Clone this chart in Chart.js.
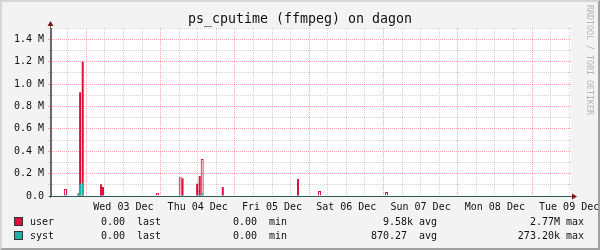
<!DOCTYPE html>
<html>
<head>
<meta charset="utf-8">
<title>ps_cputime (ffmpeg) on dagon</title>
<script src="https://cdn.jsdelivr.net/npm/chart.js@4/dist/chart.umd.min.js"></script>
<style>
  body { margin: 0; background: #f3f3f3; }
  #frame {
    position: relative; width: 600px; height: 250px; overflow: hidden;
    background: #f3f3f3; font-family: "DejaVu Sans Mono", monospace; color: #111;
  }
  #chart { position: absolute; left: 0; top: 0; }
  #edge {
    position: absolute; left: 0; top: 0; width: 600px; height: 250px; box-sizing: border-box;
    border: 2px solid; border-color: #d6d6d6 #a0a0a0 #a0a0a0 #d6d6d6; pointer-events: none;
  }
  #title {
    position: absolute; left: 0; top: 11px; width: 600px; text-align: center;
    font-size: 13.3px; line-height: 16px; white-space: pre;
  }
  #mark {
    position: absolute; left: 585px; top: 5px; writing-mode: vertical-rl;
    font-size: 8.3px; color: #b4b4b4; white-space: pre;
  }
  .lg { position: absolute; font-size: 10px; line-height: 12px; white-space: pre; }
  .box { position: absolute; width: 7px; height: 7px; border: 1px solid #333; }
</style>
</head>
<body>
<div id="frame">
  <canvas id="chart" width="600" height="250"></canvas>
  <div id="title"></div>
  <div id="mark">RRDTOOL / TOBI OETIKER</div>
  <div id="legend"></div>
  <div id="edge"></div>
</div>
<script>
// ================= DATA =================
const title = "ps_cputime (ffmpeg) on dagon";

// x values are hours counted from Tue 02 Dec 00:00
const viewStart = 12.6;
const viewEnd = 180.6;

const dayLabels = ["Wed 03 Dec", "Thu 04 Dec", "Fri 05 Dec", "Sat 06 Dec", "Sun 07 Dec", "Mon 08 Dec", "Tue 09 Dec"];
const dayNoons = [36, 60, 84, 108, 132, 156, 180];

const yTickLabels = ["0.0", "0.2 M", "0.4 M", "0.6 M", "0.8 M", "1.0 M", "1.2 M", "1.4 M"];

// user, half-hour spikes
const userTimes = [21.5, 22.0, 22.85, 28.75, 29.4, 55.1, 59.8, 60.65, 68.1, 92.4];
const userValues = [25000, 926000, 1199000, 105000, 80000, 158000, 110000, 178000, 80000, 152000];

// user, hour-long spikes (show up as outlines)
const userLongTimes = [17.3, 47.0, 54.35, 60.2, 61.45, 99.35, 121.0];
const userLongValues = [62000, 30000, 167000, 50000, 330000, 45000, 36000];

// syst
const systTimes = [17.3, 21.5, 22.0, 22.85, 28.75, 54.35, 55.1, 60.65, 61.45, 68.1, 92.4];
const systValues = [15000, 20000, 104000, 118000, 8000, 8000, 8000, 12000, 24000, 6000, 10000];

// legend
const statNames = ["last", "min", "avg", "max"];
const userStats = ["0.00", "0.00", "9.58k", "2.77M"];
const systStats = ["0.00", "0.00", "870.27", "273.20k"];

// ================= STYLE =================
const USER_COLOR = "#e0103c";
const SYST_COLOR = "#1fb3a8";
const MAJOR_GRID = "rgba(255, 40, 40, 0.40)";
const MINOR_GRID = "rgba(140, 140, 140, 0.38)";
const FONT = { family: "DejaVu Sans Mono", size: 10 };

document.getElementById("title").textContent = title;

// ================= LEGEND =================
const legendEl = document.getElementById("legend");
const nameCols = [137, 269, 419, 566];   // where "last", "min", ... start
const valueEnds = [131, 263, 413, 560];  // right edge of value + unit

function addText(text, x, y, alignRight) {
  const el = document.createElement("div");
  el.className = "lg";
  el.textContent = text;
  if (alignRight) el.style.right = (600 - x) + "px";
  else el.style.left = x + "px";
  el.style.top = y + "px";
  legendEl.appendChild(el);
}

function addRow(name, color, stats, y) {
  const box = document.createElement("div");
  box.className = "box";
  box.style.left = "14px";
  box.style.top = (y - 5) + "px";
  box.style.background = color;
  legendEl.appendChild(box);

  addText(name, 30, y - 6);
  stats.forEach((s, i) => {
    // values without a unit letter leave a blank unit column
    const edge = /[a-zA-Z]$/.test(s) ? valueEnds[i] : valueEnds[i] - 6;
    addText(s, edge, y - 6, true);
  });
  statNames.forEach((s, i) => addText(s, nameCols[i], y - 6));
}

addRow("user", USER_COLOR, userStats, 222);
addRow("syst", SYST_COLOR, systStats, 236);

// ================= CHART =================
function points(times, values) {
  return times.map((t, i) => ({ x: t, y: values[i] }));
}

const rrdFrame = {
  id: "rrdFrame",
  beforeDraw(chart) {
    const { ctx, chartArea: a } = chart;
    ctx.save();
    ctx.fillStyle = "#fff";
    ctx.fillRect(a.left, a.top, a.right - a.left, a.bottom - a.top);
    ctx.restore();
  },
  afterDatasetsDraw(chart) {
    const { ctx, chartArea: a } = chart;
    ctx.save();
    ctx.lineWidth = 1;

    // y axis
    ctx.strokeStyle = "#6a6a6a";
    ctx.beginPath();
    ctx.moveTo(a.left - 0.5, a.bottom + 2);
    ctx.lineTo(a.left - 0.5, a.top - 3);
    ctx.stroke();

    // x axis
    ctx.strokeStyle = "#2b5c5a";
    ctx.beginPath();
    ctx.moveTo(a.left - 2, a.bottom + 0.5);
    ctx.lineTo(a.right + 2, a.bottom + 0.5);
    ctx.stroke();

    // arrows
    ctx.fillStyle = "#7e1414";
    ctx.beginPath();
    ctx.moveTo(a.left - 3.5, a.top - 2);
    ctx.lineTo(a.left + 2.5, a.top - 2);
    ctx.lineTo(a.left - 0.5, a.top - 7);
    ctx.closePath();
    ctx.fill();

    ctx.beginPath();
    ctx.moveTo(a.right + 1, a.bottom - 2.5);
    ctx.lineTo(a.right + 1, a.bottom + 3.5);
    ctx.lineTo(a.right + 6, a.bottom + 0.5);
    ctx.closePath();
    ctx.fill();
    ctx.restore();
  }
};

const chart = new Chart(document.getElementById("chart"), {
  type: "bar",
  data: {
    datasets: [
      {
        label: "syst",
        data: points(systTimes, systValues),
        backgroundColor: SYST_COLOR,
        barThickness: 2,
        grouped: false,
        inflateAmount: 0
      },
      {
        label: "user",
        data: points(userTimes, userValues),
        backgroundColor: USER_COLOR,
        barThickness: 2,
        grouped: false,
        inflateAmount: 0
      },
      {
        label: "user (hour)",
        data: points(userLongTimes, userLongValues),
        backgroundColor: "rgba(0,0,0,0)",
        borderColor: USER_COLOR,
        borderWidth: 1,
        barThickness: 3,
        grouped: false,
        inflateAmount: 0
      }
    ]
  },
  options: {
    responsive: false,
    animation: false,
    events: [],
    layout: { padding: { left: 0, right: 29, top: 28, bottom: 0 } },
    plugins: {
      legend: { display: false },
      tooltip: { enabled: false }
    },
    scales: {
      x: {
        type: "linear",
        min: viewStart,
        max: viewEnd,
        offset: false,
        grid: {
          offset: false,
          color: c => (c.tick && c.tick.value % 24 === 0 ? MAJOR_GRID : MINOR_GRID),
          tickColor: "rgba(0,0,0,0)",
          tickLength: 3
        },
        border: { display: true, color: "#2b5c5a", dash: [1, 1] },
        afterBuildTicks: scale => {
          const ticks = [];
          for (let h = 18; h <= viewEnd; h += 6) ticks.push({ value: h });
          scale.ticks = ticks;
        },
        afterFit: scale => {
          scale.height = 54;
          scale.paddingLeft = 0;
          scale.paddingRight = 0;
        },
        ticks: {
          autoSkip: false,
          maxRotation: 0,
          minRotation: 0,
          padding: 2,
          font: FONT,
          color: "#111",
          callback: v => {
            const i = dayNoons.indexOf(v);
            return i >= 0 ? dayLabels[i] : "";
          }
        }
      },
      y: {
        min: 0,
        max: 1500000,
        grid: {
          color: c => (c.tick && c.tick.value % 200000 === 0 ? MAJOR_GRID : MINOR_GRID),
          tickLength: 3
        },
        border: { display: true, color: "#6a6a6a", dash: [1, 1] },
        afterBuildTicks: scale => {
          const ticks = [];
          for (let v = 0; v <= 1500000; v += 100000) ticks.push({ value: v });
          scale.ticks = ticks;
        },
        afterFit: scale => {
          scale.width = 51;
          scale.paddingTop = 0;
          scale.paddingBottom = 0;
        },
        ticks: {
          autoSkip: false,
          padding: 4,
          font: FONT,
          color: "#111",
          callback: v => (v % 200000 === 0 ? yTickLabels[v / 200000] : "")
        }
      }
    }
  },
  plugins: [rrdFrame]
});
</script>
</body>
</html>
